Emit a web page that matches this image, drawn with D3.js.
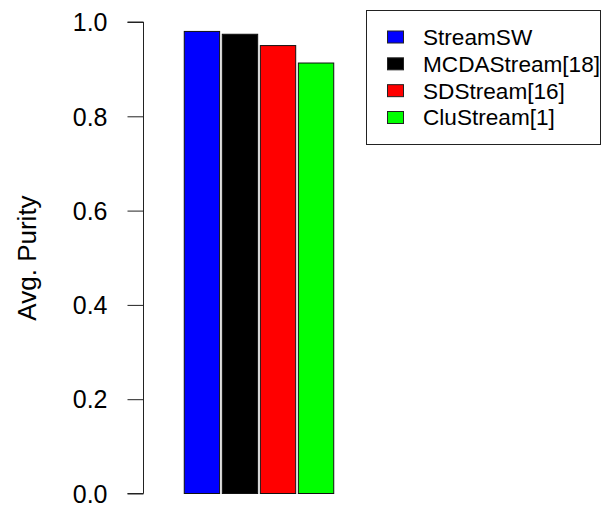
<!DOCTYPE html>
<html><head><meta charset="utf-8">
<script src="https://cdn.jsdelivr.net/npm/d3@7"></script>
<style>body{margin:0;background:#fff}svg{display:block}text{font-family:"Liberation Sans",Arial,sans-serif;fill:#000}</style>
</head><body>
<svg id="c" width="601" height="506"></svg>
<script>
const methods = ["StreamSW", "MCDAStream[18]", "SDStream[16]", "CluStream[1]"];
const purity = [0.98, 0.974, 0.95, 0.913];
const colors = ["#0000ff", "#000000", "#ff0000", "#00ff00"];
const yTicks = [0.0, 0.2, 0.4, 0.6, 0.8, 1.0];
const yLabel = "Avg. Purity";

const svg = d3.select("#c");
const y = d3.scaleLinear().domain([0, 1]).range([493.5, 22]);
const x = d3.scaleBand().domain(methods).range([183.5, 334.5]).paddingInner(0.07).paddingOuter(0.02);

const axis = d3.axisLeft(y).tickValues(yTicks).tickFormat(d3.format(".1f")).tickSize(16).tickPadding(20);
const g = svg.append("g").attr("transform", "translate(143.5,0)").call(axis);
g.select(".domain").attr("stroke", "#222").attr("d", "M-16," + y(0) + "H0V" + y(1) + "H-16");
g.selectAll(".tick line").attr("stroke", "#222");
g.selectAll(".tick text").style("font-size", "25px").attr("dy", "0.35em").attr("font-family", "Liberation Sans, Arial, sans-serif").attr("fill", "#000");

svg.append("text").attr("transform", "translate(35.5,258) rotate(-90)").attr("text-anchor", "middle")
  .style("font-size", "26px").text(yLabel);

svg.selectAll("rect.bar").data(methods).enter().append("rect").attr("class", "bar")
  .attr("x", d => x(d)).attr("width", x.bandwidth())
  .attr("y", (d, i) => y(purity[i])).attr("height", (d, i) => y(0) - y(purity[i]))
  .attr("fill", (d, i) => colors[i]).attr("stroke", "#111").attr("stroke-width", 1);

const leg = svg.append("g");
leg.append("rect").attr("x", 366.5).attr("y", 10.5).attr("width", 234).attr("height", 134)
  .attr("fill", "none").attr("stroke", "#222");
const rowY = d3.scaleLinear().domain([0, 3]).range([37, 117.5]);
methods.forEach((m, i) => {
  leg.append("rect").attr("x", 387.5).attr("y", rowY(i) - 6).attr("width", 16).attr("height", 12)
    .attr("fill", colors[i]).attr("stroke", "#222");
  leg.append("text").attr("x", 423).attr("y", rowY(i)).attr("dy", "0.35em").style("font-size", "22.6px").text(m);
});
</script>
</body></html>
